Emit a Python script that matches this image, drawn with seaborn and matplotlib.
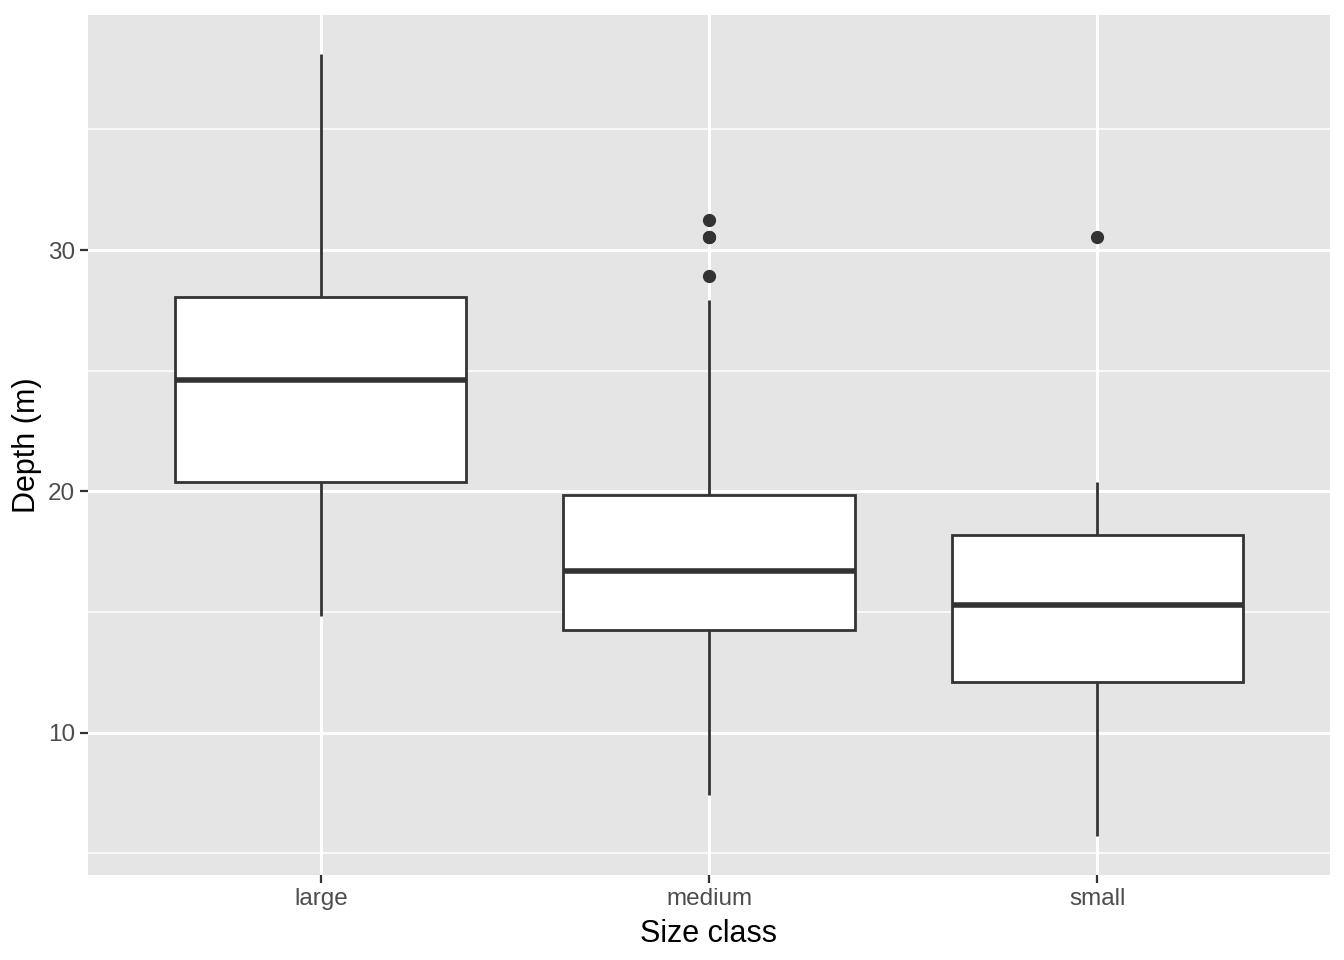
import matplotlib
matplotlib.use("Agg")
import matplotlib.pyplot as plt
import seaborn as sns
import pandas as pd
from matplotlib.ticker import MultipleLocator

large_depth = [14.83, 18.0, 20.39, 22.5, 24.61, 26.3, 28.05, 33.0, 38.12]
medium_depth = [7.41, 10.5, 12.0, 13.2, 13.8, 14.25, 14.8, 15.4, 15.9, 16.3,
                16.70, 17.3, 18.0, 18.7, 19.3, 19.85, 27.93, 28.92, 30.54,
                30.54, 31.24]
small_depth = [5.71, 9.0, 12.10, 13.8, 15.29, 16.8, 18.19, 20.39, 30.54]
categories = ["large", "medium", "small"]

df = pd.DataFrame({
    "size": ["large"] * len(large_depth) + ["medium"] * len(medium_depth)
            + ["small"] * len(small_depth),
    "depth": large_depth + medium_depth + small_depth,
})

sns.set_theme(style="darkgrid")
plt.rcParams["font.family"] = ["Liberation Sans", "DejaVu Sans"]

fig = plt.figure(figsize=(13.44, 9.6), dpi=100)
ax = fig.add_axes([88 / 1344, 1 - 875 / 960, (1330 - 88) / 1344, (875 - 15) / 960])
ax.set_facecolor("#E5E5E5")

line_col = "#333333"
sns.boxplot(data=df, x="size", y="depth", order=categories, ax=ax,
            color="white", linecolor=line_col, linewidth=2.0, width=0.75,
            showcaps=False,
            medianprops=dict(color=line_col, linewidth=4.0),
            whiskerprops=dict(color=line_col, linewidth=2.0),
            boxprops=dict(edgecolor=line_col, linewidth=2.0),
            flierprops=dict(marker="o", markerfacecolor=line_col,
                            markeredgecolor=line_col, markersize=8.5))

ax.set_xlim(-0.6, 2.6)
ax.set_ylim(4.10, 39.74)
ax.yaxis.set_major_locator(MultipleLocator(10))
ax.yaxis.set_minor_locator(MultipleLocator(5))
ax.grid(which="major", color="white", linewidth=2.2)
ax.grid(which="minor", axis="y", color="white", linewidth=1.1)
ax.set_axisbelow(True)
for s in ax.spines.values():
    s.set_visible(False)

ax.tick_params(axis="both", which="major", length=5.5, width=1.6,
               color=line_col, labelsize=17.5, labelcolor="#4D4D4D", pad=4)
ax.tick_params(axis="y", which="minor", length=0)
ax.tick_params(left=True, bottom=True)

ax.set_xlabel("Size class", fontsize=22, color="black", labelpad=6)
ax.set_ylabel("Depth (m)", fontsize=22, color="black", labelpad=4)

fig.savefig("out.png", dpi=100, facecolor="white")
